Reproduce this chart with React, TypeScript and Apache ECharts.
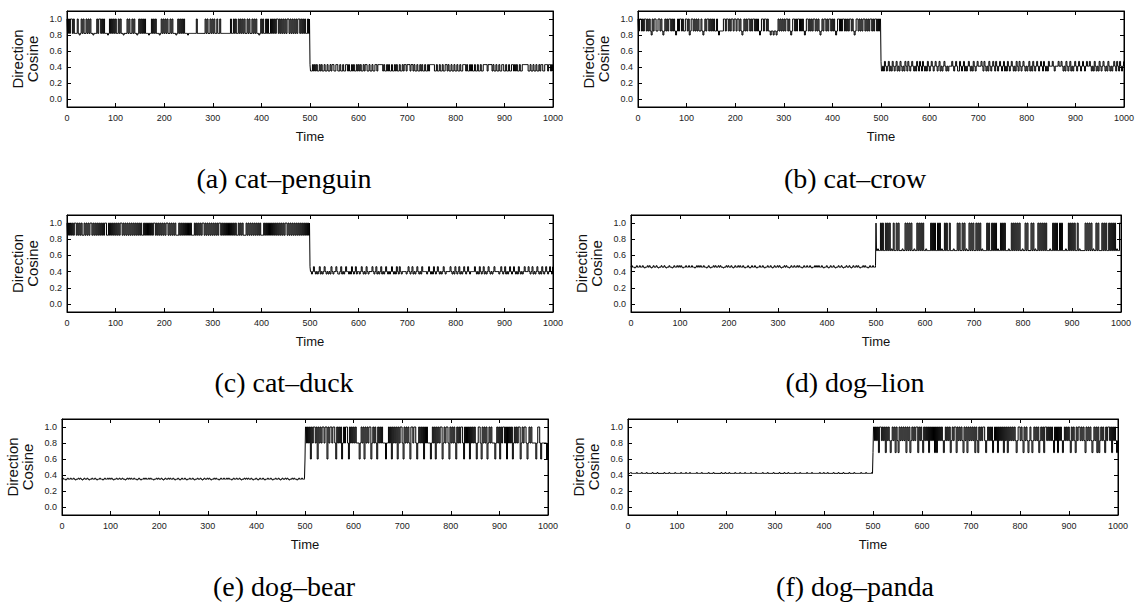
import React, { useEffect, useRef } from "react";
import * as echarts from "echarts";

// ---------- tick labels / captions ----------
const Y_TICKS = [0, 0.2, 0.4, 0.6, 0.8, 1.0];
const CAPTIONS = [
  "(a) cat–penguin",
  "(b) cat–crow",
  "(c) cat–duck",
  "(d) dog–lion",
  "(e) dog–bear",
  "(f) dog–panda",
];

// ---------- series values (each char = one sample; level codes below) ----------
// (a) cat–penguin
const A1_LEVELS = { m: 0.82, h: 1.0, l: 0.8 };
const A1 =
  "hmhmhhmhmm mhmlmhmhmm hmhmhmmlmm mhmhhmhmhm mmlmhmhmhm hmmhmhmmlm mmhmhmmhmh mmlmhmhmhm hmmmlmmhmh mhmmmlmhmh mhmhmmhmhm mmlmhmhmhm hmmmlmmmmm mmmhmmmmmm mmhmhmmhmh mhmmhmmhmm mmmmmmmmhm mhmhmmhmhm hmhmmhmhmm hmhmhmmlmh mhmmhmhmmh mhmhmhhmhm hmhmhmhhmh mhmhmhmhhm hmhmhmmhmh";
const A2_LEVELS = { u: 0.43, d: 0.35 };
const A2 =
  "uddudududd ududduddud duduudduud duddudduud uddududdud ududduduud duddudduud uuuuududdu dudduddudu ddudduduud uuuduududd uddududdud duduuuuudd uddudduddu ududduddud duddudduuu duddududdu dduddudduu uuduuuudud duddudduud duddudduud ududdudduu uuuudduddu ddudduduud duuuduudud";

// (b) cat–crow
const B1_LEVELS = { m: 0.85, h: 1.0, l: 0.8 };
const B1 =
  "hmhhmhmhhm hmhmlhmhhm mhhmhmlmhm hmhhmhmhml mhmhhmhmmh hmhlmhhmhm hmhmmhmlmh mhhmhmhmhm mhmlmmmmhh mhhmhmhhmh hmhhmhmlmh mhmhhmhmhh mhmhmlmhhm hhmhmmlmml mmlmhmhmhm hmhhmhmlmh hmhmhhmhmh mlmhhmhmhm hhmhmhmlmh mhhmhmhhmh mhmlmhhmhm hhmhmhmhhm hmlmhhmhmh mhhmhmhmhh mhmhhmhmhh";
const B2_LEVELS = { m: 0.41, h: 0.47, l: 0.35 };
const B2 =
  "hlmlhmlmhl mlhmlmhlml hmlmlhmlhm lmhmlmlhml hmlhmlmlhm lmhmlmhmlm hlmlmhmlml mmmhmlmhml lhmlmhlmlm hmlmlhmlmh mmmhmlhmlm lhmlmhmlhm lmhmlmhlml hmlmhmlmlh mlhmlmhmlm lmhlmlhmlm hmlmhmlhml mlhmmmhmlm mmhmmhmlml hmlmhlmlmh mlmhmlmhml mhmmhmlmlh mlmlhmlmhm lmlhmlmlmh mlhmlhmlmh";

// (c) cat–duck
const C1_LEVELS = { m: 0.85, h: 1.0 };
const C1 =
  "hmhmhmhmhh mhmhmhmmhm hmhmhhmhmh mhmhmhmhmh hmmhmhmhmh mhmhmhhmhm hmhmhmhmhm hmhmhmhmmh mhmhmhmhmh hmhmhmhmhm hmhhmhmhmh mhmmmhmhmh mhmhmhmhmm mhmhmhmhmh hmhmhmhmhm hmhmhmhhmh mhmhmhmhmh mhmhmmhmhm hmmmhmhmhm hmhmhmhmhm mmhmhmhmhm hmhmhmhmhm hmhmhhmhmh mhmhmhmhmh mhmhmhmhmh";
const C2_LEVELS = { m: 0.4, h: 0.46, l: 0.37 };
const C2 =
  "hmlmhmlmlm hlmlmhmlml mlhmlmmhml lmhlmlmhmm lmlhmlmhlm mlmhmlmlhm lmmmhmlmhl mlmhlmlmhm lmlmhmlmlh mlhmlmmmml mhmlmhlmlm hmlmlhmmmm lmhmlmlhml mhmlmlmhml mmmmhmlmlh mlmhlmlmhm lmhmlmmmmh mlmlhmlmhl mlmhmlmlmh mmmmlmhmlm hlmlmhmlmh mlmlhmlmlm hmmmhmlmhl mlmhmlmlhm lmhmlmhmlh";

// (d) dog–lion
const D1_LEVELS = { a: 0.455, b: 0.472, c: 0.445 };
const D1 =
  "abaacabaab aabacaabab acabaabaca abaabacaab aacabaabab abacaabaab aabaacabab abaabaacab acaababaab abaacaabab aabacabaab abaabacaab acabaabaca abaabacaab aabacabaab abacaababa acabaabaab abaacabaab aabacaabab abaabacaab acabaabaca abaabacaab aabacabaab abacaababa acabaabaab";
const D2_LEVELS = { m: 0.66, h: 1.0, n: 0.68 };
const D2 =
  "hmnmmhmhmm hmhmhmnmhm mhmhmmmnmm hmhmhmhmmn mmhmhmhmhm mnmmmmhmhm hmmhmhmnmm hmhmmhmmmn mmmhmhmmhm hmnmmhmhmh mmhmhmhmnm mmmhmhmmhm hmhmnmmhmh mhmmmnmmhm hmhmhmhmmn mmhmhmmmhm hmnmmhmhmh mhmhmmmnmm hmhmhmmhmh mmmnmmhmhm hmhmmhmnmm mmmhmhmhmh mnmmhmhmmm hmhmhmmhmh mhmhmnmmhh";

// (e) dog–bear
const E1_LEVELS = { a: 0.348, b: 0.36, c: 0.338 };
const E1 =
  "abaacabaab aabacaabab acabaabaca abaabacaab aacabaabab abacaabaab aabaacabab abaabaacab acaababaab abaacaabab aabacabaab abaabacaab acabaabaca abaabacaab aabacabaab abacaababa acabaabaab abaacabaab aabacaabab abaabacaab acabaabaca abaabacaab aabacabaab abacaababa acabaabaab";
const E2_LEVELS = { h: 1.0, m: 0.8, l: 0.6 };
const E2 =
  "lhmhmhlhmh hmhlhmhmhh mhhlhmhhmh hmlhmhmhlm hmhhmlhmhm hmhmmmlmhm hlhmhmhhlm hmhmlhmhmh mmmlmmhmhl hmhmhlhmhh mlhmhmhmlh hmhhmlmhmh mhlhmhmmml mhmhlhmhmh hlmhmhhmlh mhmhmlhmhm hhmlhmhmhl hmhmhmlmhh mlhmhmhlmh mhmmmlmhmh lhmhhmhlhm hmhlmhmhmh hlmhmhhmlm hmhmmmmlmh hmlmmmmmlm";

// (f) dog–panda
const F1_LEVELS = { a: 0.42, b: 0.43 };
const F1 =
  "aaabaaaaab aaaabaaaab aaaaabaaaa baaaaaabaa aabaaaaaba aaaabaaaab aaabaaaaaa baaaabaaaa aabaaaabaa aaaaabaaab aaabaaaaab aaaabaaaab aaaaabaaaa baaaaaabaa aabaaaaaba aaaabaaaab aaabaaaaaa baaaabaaaa aabaaaabaa aaaaabaaab aaabaaaaab aaaabaaaab aaaaabaaaa baaaaaabaa aabaaaaaba";
const F2_LEVELS = { h: 1.0, m: 0.83, l: 0.68 };
const F2 =
  "lhmhmhlhhm hmhlhmhmlm hmhlhmlhmh mhmhlhmhlm hmhmhhlhmh mlhmhmhlhm hmhlhlhmhm hmlmhmhmhl mhmhhlhmhm hmlhmhlhmh mhmhlhmlhm hmhhmlmhmh mhlmhmhlhm hmhlhmhlhm hmhmhmlmhh mhmlhmhmlm hmlmhmhmhl mhmhlhhmhm hmhmlhmhlh mhmlmhmhmh mlhmhmlhmh hmhmhmlhmh mhmlmhmhlh lmhmhmlhmh hmhlhmhmlm";

const SERIES_PARTS: [string, Record<string, number>, string, Record<string, number>][] = [
  [A1, A1_LEVELS, A2, A2_LEVELS],
  [B1, B1_LEVELS, B2, B2_LEVELS],
  [C1, C1_LEVELS, C2, C2_LEVELS],
  [D1, D1_LEVELS, D2, D2_LEVELS],
  [E1, E1_LEVELS, E2, E2_LEVELS],
  [F1, F1_LEVELS, F2, F2_LEVELS],
];

function decodeHalf(str: string, levels: Record<string, number>, t0: number, span: number) {
  const s = str.replace(/\s+/g, "");
  const n = s.length;
  const out: [number, number][] = [];
  for (let i = 0; i < n; i++) {
    out.push([t0 + (i * span) / (n - 1), levels[s[i]]]);
  }
  return out;
}

const SANS = "Liberation Sans, Arial, sans-serif";
const SERIF = "Liberation Serif, Times New Roman, serif";

export default function App() {
  const ref = useRef<HTMLDivElement>(null);

  useEffect(() => {
    if (!ref.current) return;
    const chart = echarts.init(ref.current, undefined, { renderer: "svg" });

    const grids = [
      { left: 67, top: 11, width: 486, height: 96 },
      { left: 638, top: 11, width: 486, height: 96 },
      { left: 67, top: 215, width: 486, height: 97 },
      { left: 631, top: 215, width: 490, height: 97 },
      { left: 62, top: 419, width: 486, height: 96 },
      { left: 628, top: 419, width: 490, height: 96 },
    ];
    const captionPos = [
      [284, 178],
      [855, 178],
      [284, 382],
      [855, 382],
      [284, 586],
      [855, 586],
    ];

    const tickStyle = { color: "#000", width: 1 };
    const xBottom = grids.map((_, i) => ({
      type: "value",
      gridIndex: i,
      position: "bottom",
      min: 0,
      max: 1000,
      interval: 100,
      axisLine: { show: true, onZero: false, lineStyle: tickStyle },
      axisTick: { show: true, inside: true, length: 4, lineStyle: tickStyle },
      axisLabel: { fontSize: 9, color: "#222", fontFamily: SANS, margin: 6, formatter: (v: number) => String(v) },
      splitLine: { show: false },
      name: "Time",
      nameLocation: "middle",
      nameGap: 23,
      nameTextStyle: { fontSize: 13, color: "#111", fontFamily: SANS },
    }));
    const xTop = grids.map((_, i) => ({
      type: "value",
      gridIndex: i,
      position: "top",
      min: 0,
      max: 1000,
      interval: 100,
      axisLine: { show: true, onZero: false, lineStyle: tickStyle },
      axisTick: { show: true, inside: true, length: 4, lineStyle: tickStyle },
      axisLabel: { show: false },
      splitLine: { show: false },
    }));
    const yLeft = grids.map((_, i) => ({
      type: "value",
      gridIndex: i,
      position: "left",
      min: -0.1,
      max: 1.1,
      axisLine: { show: true, onZero: false, lineStyle: tickStyle },
      axisTick: { show: true, inside: true, length: 4, lineStyle: tickStyle, customValues: Y_TICKS },
      axisLabel: {
        customValues: Y_TICKS,
        formatter: (v: number) => Number(v).toFixed(1),
        fontSize: 9,
        color: "#222",
        fontFamily: SANS,
        margin: 5,
      },
      splitLine: { show: false },
    }));
    const yRight = grids.map((_, i) => ({
      type: "value",
      gridIndex: i,
      position: "right",
      min: -0.1,
      max: 1.1,
      axisLine: { show: true, onZero: false, lineStyle: tickStyle },
      axisTick: { show: true, inside: true, length: 4, lineStyle: tickStyle, customValues: Y_TICKS },
      axisLabel: { show: false },
      splitLine: { show: false },
    }));

    const series = SERIES_PARTS.map(([s1, l1, s2, l2], i) => ({
      type: "line",
      name: CAPTIONS[i],
      xAxisIndex: i,
      yAxisIndex: i,
      data: [...decodeHalf(s1, l1, 0, 500), ...decodeHalf(s2, l2, 500, 500)],
      step: "middle",
      showSymbol: false,
      symbol: "none",
      silent: true,
      lineStyle: { color: "#000", width: 1 },
    }));

    const graphic: any[] = [];
    grids.forEach((g, i) => {
      graphic.push({
        type: "text",
        x: g.left - 42,
        y: g.top + g.height / 2,
        rotation: Math.PI / 2,
        silent: true,
        style: {
          text: "Direction\nCosine",
          fontSize: 15,
          lineHeight: 15,
          fontFamily: SANS,
          fill: "#111",
          textAlign: "center",
          textVerticalAlign: "middle",
        },
      });
      graphic.push({
        type: "text",
        x: captionPos[i][0],
        y: captionPos[i][1],
        silent: true,
        style: {
          text: CAPTIONS[i],
          fontSize: 28,
          fontFamily: SERIF,
          fill: "#000",
          textAlign: "center",
          textVerticalAlign: "middle",
        },
      });
    });

    chart.setOption({
      animation: false,
      backgroundColor: "#fff",
      grid: grids.map((g) => ({ ...g, show: true, borderColor: "#000", borderWidth: 1, backgroundColor: "transparent" })),
      xAxis: [...xBottom, ...xTop],
      yAxis: [...yLeft, ...yRight],
      series,
      graphic,
    } as any);

    return () => chart.dispose();
  }, []);

  return (
    <div
      ref={ref}
      style={{ position: "absolute", left: 0, top: 0, width: 1138, height: 605, background: "#fff" }}
    />
  );
}
